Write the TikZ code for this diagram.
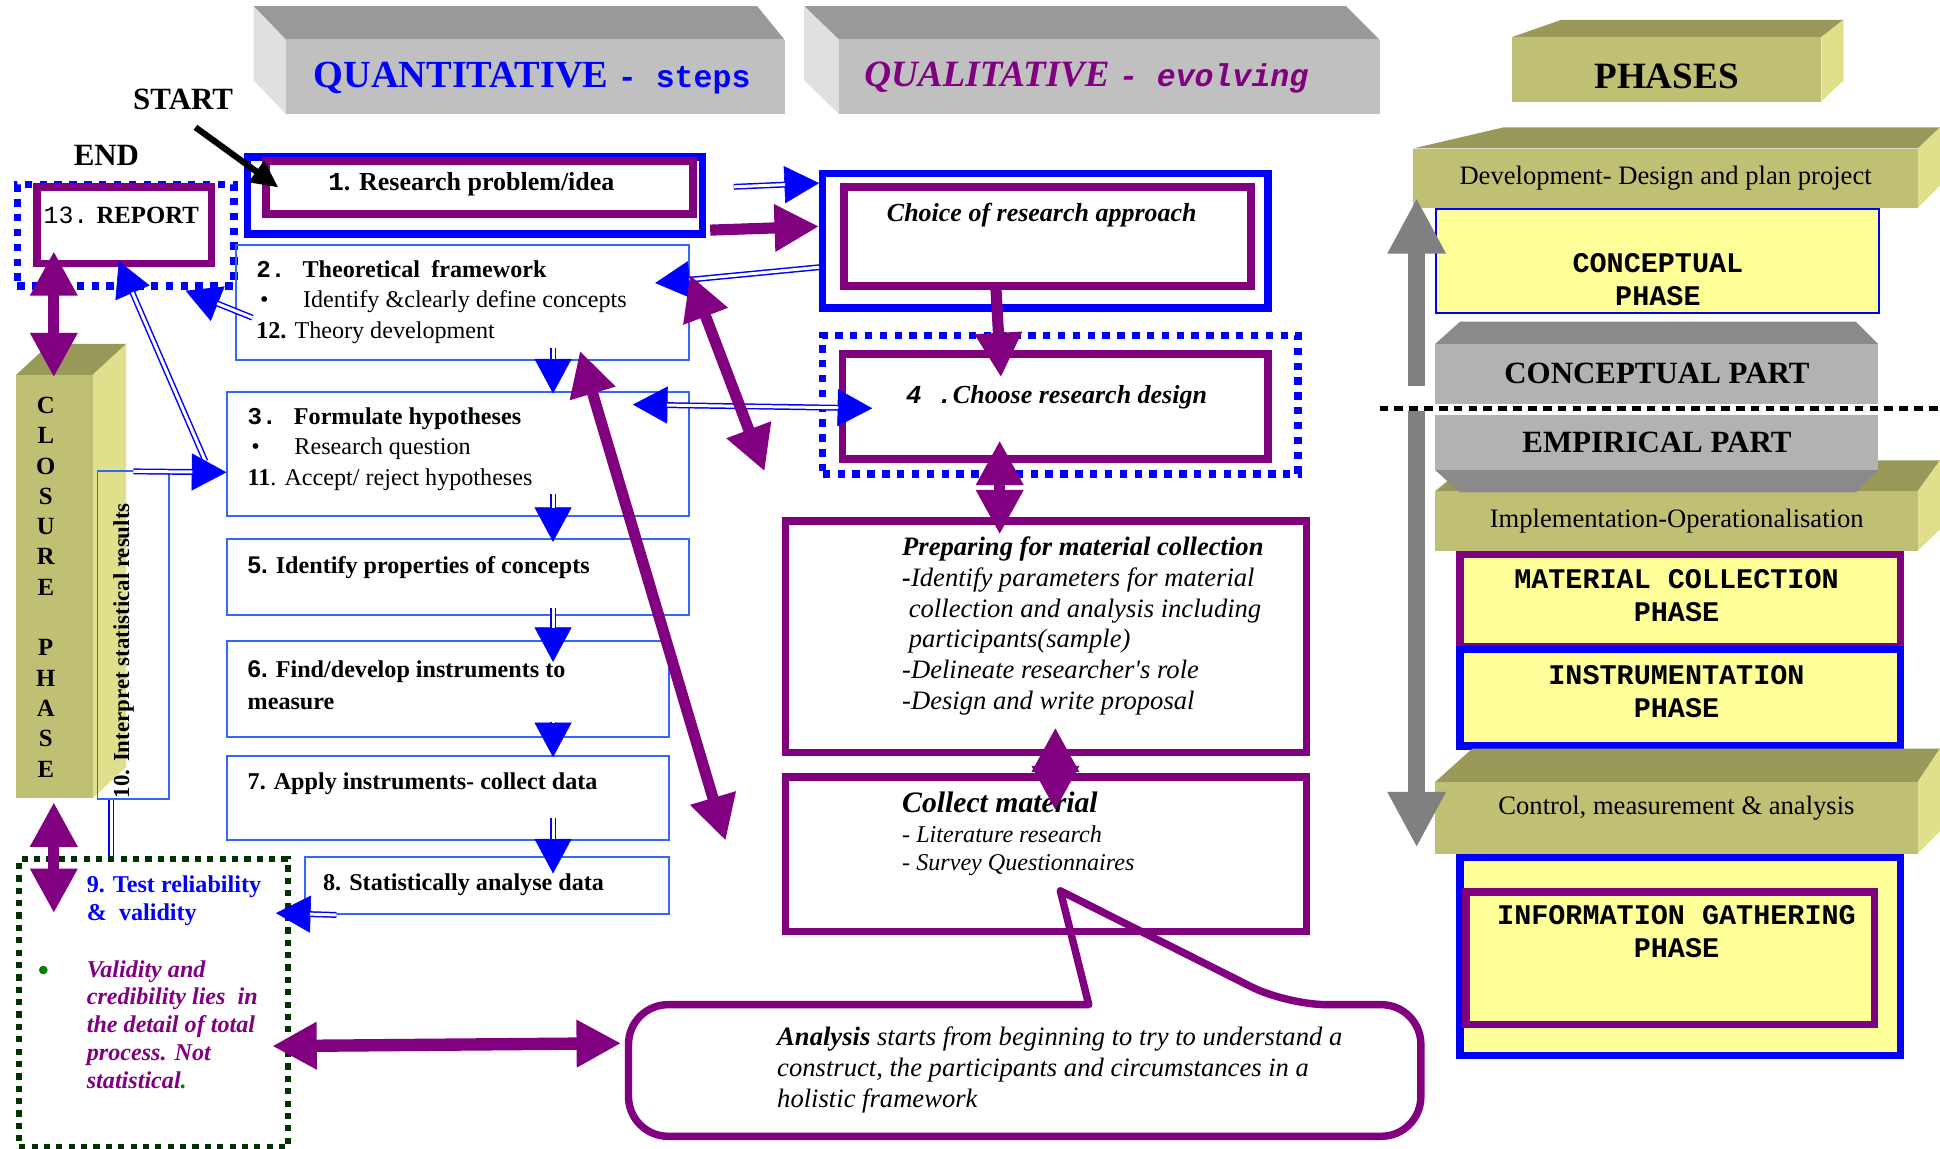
\documentclass[tikz,border=0pt]{standalone}
\usepackage{fontspec}
\setmainfont{Liberation Serif}
\setmonofont{Liberation Mono}
\newfontfamily\sansfam{Liberation Sans}
\usepackage{tikz}
\usetikzlibrary{calc}
\usetikzlibrary{arrows.meta}
\tikzset{>=latex}

\definecolor{purp}{HTML}{800080}
\definecolor{boxblue}{HTML}{3366FF}
\definecolor{yel}{HTML}{FFFF99}
\definecolor{dkgreen}{HTML}{003300}
\definecolor{bulgreen}{HTML}{008000}
\definecolor{grayfront}{HTML}{C0C0C0}
\definecolor{graytop}{HTML}{999999}
\definecolor{grayside}{HTML}{E0E0E0}
\definecolor{partfront}{HTML}{B2B2B2}
\definecolor{partbevel}{HTML}{8A8A8A}
\definecolor{olivefront}{HTML}{C0C075}
\definecolor{olivetop}{HTML}{99995A}
\definecolor{oliveside}{HTML}{E0E08C}
\definecolor{arrgray}{HTML}{808080}

\newcommand{\fsz}[2]{\fontsize{#1}{#2}\selectfont}

\tikzset{
  panel/.style={rectangle, anchor=north west, inner sep=0pt},
  stepbox/.style={panel, draw=boxblue, line width=1.5pt},
  purpbox/.style={panel, draw=purp, line width=6pt},
  bluebox/.style={panel, draw=blue, line width=6pt},
  dotbox/.style={panel, draw=blue, line width=6pt, dash pattern=on 6pt off 6pt},
  greenbox/.style={panel, draw=dkgreen, line width=5pt, dash pattern=on 5pt off 5pt},
  phasebox/.style={panel, fill=yel},
  phaselbl/.style={font=\ttfamily\bfseries\fsz{23}{27}, align=center},
  steptext/.style={anchor=north west, inner sep=0pt, align=left, font=\fsz{19.5}{25}},
  bluepipe/.style={draw=blue, line width=1.2pt, double=white, double distance=2.4pt},
  bluearr/.style={draw=blue, line width=0.5pt, -{Triangle[length=28pt,width=30pt]},
    postaction={bluepipe, -, shorten >=27.5pt}},
  bluedbl/.style={draw=blue, line width=0.5pt, {Triangle[length=28pt,width=30pt]}-{Triangle[length=28pt,width=30pt]},
    postaction={bluepipe, -, shorten >=27.5pt, shorten <=27.5pt}},
  purparr/.style={draw=purp, line width=9pt, -{Triangle[length=36pt,width=36pt]}},
  purpdbl/.style={draw=purp, line width=9pt, {Triangle[length=36pt,width=36pt]}-{Triangle[length=36pt,width=36pt]}},
  grayarr/.style={draw=arrgray, line width=14pt, -{Triangle[length=45pt,width=44pt]}},
  startarr/.style={draw=black, line width=5pt, -{Triangle[length=22pt,width=20pt]}},
}

\begin{document}
\begin{tikzpicture}[x=1pt,y=-1pt]
  \useasboundingbox (0,0) rectangle (1568,928);

  % header bars
  \fill[graytop] (205,5) -- (612,5) -- (634,32) -- (231,32) -- cycle;
  \fill[grayside] (205,5) -- (231,32) -- (231,92) -- (205,65) -- cycle;
  \node[panel, fill=grayfront, minimum width=403pt, minimum height=60pt] (quant) at (231,32) {};
  \node[text=blue, font=\bfseries\fsz{31}{32}] (quantlbl) at (430,63)
    {QUANTITATIVE {\ttfamily\fsz{25.5}{28}- steps}};

  \fill[graytop] (650,5) -- (1088,5) -- (1115,32) -- (678,32) -- cycle;
  \fill[grayside] (650,5) -- (678,32) -- (678,92) -- (650,65) -- cycle;
  \node[panel, fill=grayfront, minimum width=437pt, minimum height=60pt] (qual) at (678,32) {};
  \node[text=purp, font=\bfseries\itshape\fsz{30}{32}] (quallbl) at (878,63)
    {QUALITATIVE {\ttfamily\fsz{25.5}{28}- evolving}};

  % start / end
  \node[font=\bfseries\fsz{25}{27}] (start) at (148,80) {START};
  \node[font=\bfseries\fsz{25}{27}] (end) at (86,126) {END};

  % quantitative steps
  \node[bluebox, minimum width=368pt, minimum height=62pt] (s1o) at (197,124) {};
  \node[purpbox, minimum width=345pt, minimum height=43pt] (s1) at (212,127) {};
  \node[font=\bfseries\fsz{21}{24}] (s1lbl) at (381,149) {{\ttfamily 1}. Research problem/idea};

  \node[dotbox, minimum width=175pt, minimum height=82pt] (repo) at (11,146) {};
  \node[purpbox, minimum width=141pt, minimum height=62pt] (rep) at (27,148) {};
  \node[font=\fsz{20}{24}] (replbl) at (98,174) {{\ttfamily 13.} \textbf{REPORT}};

  \node[stepbox, minimum width=366pt, minimum height=93pt] (s2) at (190,197) {};
  \node[steptext] (s2txt) at (207,210)
    {\textbf{{\ttfamily 2.}\hspace{14pt}Theoretical\hspace{9pt}framework}\\
     \hspace{3pt}\textbullet\hspace{28pt}Identify \&clearly define concepts\\
     \textbf{12.} Theory development};

  \node[stepbox, minimum width=373pt, minimum height=100pt] (s3) at (183,316) {};
  \node[steptext] (s3txt) at (200,329)
    {\textbf{{\ttfamily 3.}\hspace{14pt}Formulate hypotheses}\\
     \hspace{3pt}\textbullet\hspace{28pt}Research question\\
     \textbf{11}. Accept/ reject hypotheses};

  \node[stepbox, minimum width=373pt, minimum height=61pt] (s5) at (183,435) {};
  \node[steptext] (s5txt) at (200,450) {\textbf{{\sansfam 5.} Identify properties of concepts}};

  \node[stepbox, minimum width=357pt, minimum height=78pt] (s6) at (183,517) {};
  \node[steptext, font=\fsz{19.5}{26}] (s6txt) at (200,534)
    {\textbf{{\sansfam 6.} Find/develop instruments to}\\\textbf{measure}};

  \node[stepbox, minimum width=357pt, minimum height=68pt] (s7) at (183,610) {};
  \node[steptext] (s7txt) at (200,624) {\textbf{7. Apply instruments- collect data}};

  \node[stepbox, minimum width=294pt, minimum height=46pt] (s8) at (246,692) {};
  \node[steptext] (s8txt) at (261,706) {\textbf{8. Statistically analyse data}};

  % closure phase
  \fill[olivetop] (13,303) -- (40,278) -- (102,278) -- (75,303) -- cycle;
  \fill[oliveside] (75,303) -- (102,278) -- (102,620) -- (75,645) -- cycle;
  \node[panel, fill=olivefront, minimum width=62pt, minimum height=342pt] (clos) at (13,303) {};
  \node[font=\bfseries\fsz{20}{24.5}, align=center] (closlbl) at (37,474.5)
    {C\\L\\O\\S\\U\\R\\E\\[24.5pt]P\\H\\A\\S\\E};

  \node[stepbox, minimum width=58pt, minimum height=265pt] (s10) at (78,380) {};
  \node[rotate=90, font=\bfseries\fsz{18.5}{20}] (s10txt) at (100,526) {10. Interpret statistical results};

  \node[greenbox, minimum width=217pt, minimum height=233pt] (s9) at (13,692) {};
  \node[steptext, text=blue, font=\bfseries\fsz{19.5}{22}] (s9txt) at (70,708)
    {9. Test reliability\\\&\ \ validity};
  \node[circle, fill=bulgreen, inner sep=0pt, minimum size=7pt] (s9bul) at (35,784) {};
  \node[steptext, text=purp, font=\bfseries\itshape\fsz{19.5}{22.5}] (s9note) at (70,776)
    {Validity and\\credibility lies\ \ in\\the detail of total\\process. Not\\statistical{\color{bulgreen}.}};

  % qualitative column
  \node[bluebox, minimum width=360pt, minimum height=109pt] (choo) at (662,137) {};
  \node[purpbox, minimum width=329pt, minimum height=80pt] (cho) at (679,148) {};
  \node[font=\bfseries\itshape\fsz{21}{24}] (cholbl) at (842,174) {Choice of research approach};

  \node[dotbox, minimum width=384pt, minimum height=112pt] (deso) at (662,268) {};
  \node[purpbox, minimum width=344pt, minimum height=85pt] (des) at (678,283) {};
  \node[font=\bfseries\itshape\fsz{21}{24}] (deslbl) at (854,321) {{\ttfamily 4 .}Choose research design};

  \node[purpbox, minimum width=421pt, minimum height=187pt] (prep) at (632,418) {};
  \node[steptext, font=\itshape\fsz{21.5}{24.8}] (preptxt) at (729,434)
    {\textbf{Preparing for material collection}\\
     \textbf{-}Identify parameters for material\\
     \ collection and analysis including\\
     \ participants(sample)\\
     -Delineate researcher\textquotesingle s role\\
     -Design and write proposal};

  \node[purpbox, minimum width=421pt, minimum height=125pt] (coll) at (632,625) {};
  \node[steptext, font=\itshape\fsz{19.5}{23}] (colltxt) at (729,640)
    {\textbf{\fsz{24}{23}Collect material}\\[1pt]- Literature research\\- Survey Questionnaires};

  \node[panel, minimum width=640pt, minimum height=106pt] (bub) at (508,812) {};
  \draw[draw=purp, line width=6pt, line join=round]
    ($(bub.north west)+(372,0)$) [rounded corners=32pt] -- (bub.north west) -- (bub.south west)
    -- (bub.south east) -- (bub.north east) -- ($(bub.north west)+(532,0)$) [sharp corners]
    -- ($(bub.north west)+(349,-92)$) -- cycle;
  \node[steptext, font=\itshape\fsz{21.5}{25}] (bubtxt) at (628,830)
    {\textbf{Analysis} starts from beginning to try to understand a\\
     construct, the participants and circumstances in a\\
     holistic framework};

  % phases column
  \fill[olivetop] (1222,30) -- (1262,16) -- (1490,16) -- (1472,30) -- cycle;
  \fill[oliveside] (1472,30) -- (1490,16) -- (1490,65) -- (1472,82) -- cycle;
  \node[panel, fill=olivefront, minimum width=250pt, minimum height=52pt] (phases) at (1222,30) {};
  \node[font=\bfseries\fsz{30}{32}] (phaseslbl) at (1347,62) {PHASES};

  \node[phasebox, draw=blue, line width=1.5pt, minimum width=358pt, minimum height=84pt] (cph) at (1160,168) {};
  \node[phaselbl] (cphlbl) at (1340,226) {CONCEPTUAL\\PHASE};

  \fill[olivetop] (1142,120) -- (1215,103) -- (1568,103) -- (1550,120) -- cycle;
  \fill[oliveside] (1550,120) -- (1568,103) -- (1568,150) -- (1550,168) -- cycle;
  \node[panel, fill=olivefront, minimum width=408pt, minimum height=48pt, font=\fsz{21.5}{24}] (dev) at (1142,120)
    {Development- Design and plan project};

  \fill[partbevel] (1160,278) -- (1180,260) -- (1500,260) -- (1518,278) -- cycle;
  \node[panel, fill=partfront, minimum width=358pt, minimum height=48pt, font=\bfseries\fsz{25}{28}] (cpart) at (1160,278)
    {CONCEPTUAL PART};

  \fill[olivetop] (1160,397) -- (1190,372) -- (1568,372) -- (1550,397) -- cycle;
  \fill[oliveside] (1550,397) -- (1568,372) -- (1568,428) -- (1550,445) -- cycle;
  \node[panel, fill=olivefront, minimum width=390pt, minimum height=48pt, font=\fsz{21.5}{24}] (impl) at (1160,397)
    {Implementation-Operationalisation};

  \node[panel, fill=partfront, minimum width=358pt, minimum height=45pt, font=\bfseries\fsz{25}{28}] (epart) at (1160,335)
    {EMPIRICAL PART};
  \fill[partbevel] (1160,380) -- (1180,398) -- (1500,398) -- (1518,380) -- cycle;

  \node[phasebox, draw=purp, line width=6pt, minimum width=356pt, minimum height=75pt] (mcp) at (1177,445) {};
  \node[phaselbl] (mcplbl) at (1355,481.5) {MATERIAL COLLECTION\\PHASE};
  \node[phasebox, draw=blue, line width=6pt, minimum width=356pt, minimum height=78pt] (inp) at (1177,522) {};
  \node[phaselbl] (inplbl) at (1355,559) {INSTRUMENTATION\\PHASE};

  \fill[olivetop] (1160,632) -- (1190,605) -- (1568,605) -- (1550,632) -- cycle;
  \fill[oliveside] (1550,632) -- (1568,605) -- (1568,672) -- (1550,690) -- cycle;
  \node[panel, fill=olivefront, minimum width=390pt, minimum height=58pt] (ctrl) at (1160,632) {};
  \node[font=\fsz{21.5}{24}] (ctrllbl) at (1355,653) {Control, measurement \& analysis};

  \node[phasebox, draw=blue, line width=6pt, minimum width=356pt, minimum height=160pt] (igo) at (1177,690) {};
  \node[panel, draw=purp, line width=6pt, minimum width=330pt, minimum height=107pt] (ig) at (1182,718) {};
  \node[phaselbl] (iglbl) at (1355,753) {INFORMATION GATHERING\\PHASE};

  \coordinate (divL) at (1115,330);
  \coordinate (divR) at (1568,330);
  \draw[black, line width=4.5pt, dash pattern=on 7pt off 5pt] (divL) -- (divR);

  \coordinate (upfoot) at (1145,312);
  \coordinate (uptip) at (1145,160);
  \draw[grayarr] (upfoot) -- (uptip);
  \coordinate (dnfoot) at (1145,332);
  \coordinate (dntip) at (1145,685);
  \draw[grayarr] (dnfoot) -- (dntip);

  % blue connectors
  \draw[startarr] ($(start.south)+(10,11)$) -- ($(s1.west)+(13,0)$);
  \draw[bluearr] ($(s1o.east)+(22,-7)$) -- ($(choo.north west)+(0,11)$);
  \draw[bluearr] ($(choo.south west)+(0,-36)$) -- ($(s2.east)+(-28,-15.5)$);
  \draw[bluearr] ($(s2.west)+(14,12.5)$) -- ($(repo.south east)+(-42,1)$);
  \draw[bluearr] ($(s3.west)+(-17,6)$) -- ($(rep.south)+(-4.5,-5)$);
  \draw[bluearr] ($(s10.north)+(0,1)$) -- ($(s3.west)+(0,15)$);
  \draw[bluedbl] ($(s3.north east)+(-46,11)$) -- ($(des.west)+(27,1.5)$);
  \draw[bluepipe] ($(s10.south west)+(12,0)$) -- ($(s9.north west)+(77,0)$);
  \draw[bluearr] ($(s8.south west)+(26,0)$) -- ($(s9.north east)+(-12,46)$);
  \draw[bluearr] ($(s2.south west)+(257,-10)$) -- ($(s3.north west)+(264,2)$);
  \draw[bluearr] ($(s3.south west)+(264,-18)$) -- ($(s5.north west)+(264,3)$);
  \draw[bluearr] ($(s5.south west)+(264,-6)$) -- ($(s6.north west)+(264,18)$);
  \draw[bluearr] ($(s6.south west)+(264,-13)$) -- ($(s7.north west)+(264,2)$);
  \draw[bluearr] ($(s7.south west)+(264,-18)$) -- ($(s8.north west)+(201,14)$);

  % purple connectors
  \draw[purparr] ($(s1o.south east)+(3,-6)$) -- ($(choo.west)+(0,-11.5)$);
  \draw[purparr] ($(cho.south)+(-41.5,0)$) -- ($(des.north)+(-44,22)$);
  \draw[purpdbl] ($(des.south)+(-45,-18)$) -- ($(prep.north)+(-37.5,14)$);
  \draw[purpdbl] ($(prep.south)+(7.5,-23)$) -- ($(coll.north)+(7.5,30)$);
  \draw[purpdbl] ($(s2.north east)+(0,25)$) -- ($(deso.south west)+(-44,-5)$);
  \draw[purpdbl] ($(s2.south)+(95,-8)$) -- ($(s7.south east)+(45,0)$);
  \draw[purpdbl] ($(rep.south west)+(16.5,-13)$) -- ($(clos.north west)+(30.5,2)$);
  \draw[purpdbl] ($(clos.south west)+(30.5,3)$) -- ($(s9.north west)+(30.5,46)$);
  \draw[purpdbl, line width=10pt] ($(s9.east)+(-15,34.5)$) -- ($(bub.west)+(-6,-22)$);
\end{tikzpicture}
\end{document}
